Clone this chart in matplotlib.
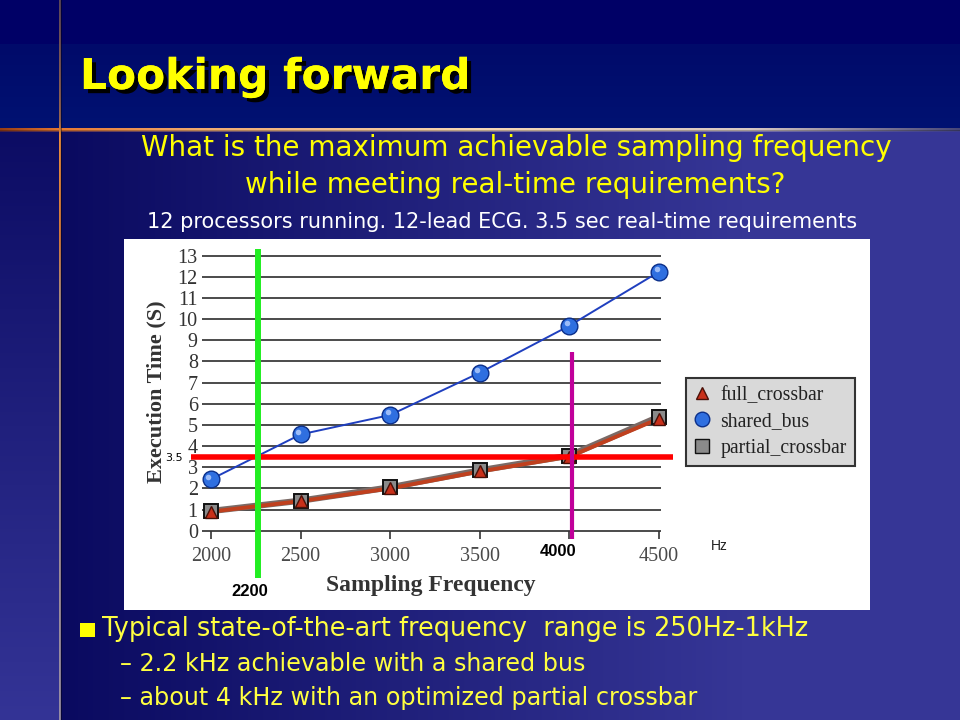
import numpy as np
import matplotlib
matplotlib.use('Agg')
import matplotlib.pyplot as plt
from matplotlib.patches import Rectangle
from matplotlib.lines import Line2D
import matplotlib.transforms as mtransforms
import matplotlib.patheffects as pe

# ---------------- data ----------------
freq = [2000, 2500, 3000, 3500, 4000, 4500]
full_crossbar = [0.90, 1.40, 2.00, 2.80, 3.50, 5.30]
shared_bus = [2.43, 4.55, 5.47, 7.47, 9.69, 12.24]
partial_crossbar = [0.93, 1.42, 2.05, 2.85, 3.55, 5.39]
series_names = ['full_crossbar', 'shared_bus', 'partial_crossbar']

x_ticks = [2000, 2500, 3000, 3500, 4000, 4500]
x_tick_labels = ['2000', '2500', '3000', '3500', '4000', '4500']
y_ticks = list(range(0, 14))

threshold = 3.5
threshold_span = (1888, 4578)
bus_limit_x = 2262          # green line, labelled 2200
bus_limit_span = (-2.23, 13.31)
crossbar_limit_x = 4014     # magenta line, labelled 4000
crossbar_limit_span = (-0.39, 8.47)

title = 'Looking forward'
question = ['What is the maximum achievable sampling frequency',
            'while meeting real-time requirements?']
setup = '12 processors running. 12-lead ECG. 3.5 sec real-time requirements'
bullet = 'Typical state-of-the-art frequency  range is 250Hz-1kHz'
subbullets = ['\u2013 2.2 kHz achievable with a shared bus',
              '\u2013 about 4 kHz with an optimized partial crossbar']

# ---------------- background ----------------
H, W = 720, 960
yy, xx = np.mgrid[0:H, 0:W]
yy = yy.astype(float)
xx = xx.astype(float)

dark = np.array([10, 10, 96]) / 255
light = np.array([54, 54, 150]) / 255
t = np.clip((xx - 62) / 680, 0, 1)[..., None]
img = dark + (light - dark) * t

ls = np.clip((yy - 132) / 588, 0, 1)[..., None]
l0 = np.array([12, 12, 100]) / 255
l1 = np.array([52, 52, 150]) / 255
left = l0 + (l1 - l0) * ls
mask = xx < 59
img[mask] = left[mask]

img[:44] = np.array([0, 0, 102]) / 255
tb = np.clip((yy - 44) / 84, 0, 1)[..., None]
b0 = np.array([0, 10, 106]) / 255
b1 = np.array([0, 18, 114]) / 255
band = b0 + (b1 - b0) * tb
img[44:128] = band[44:128]

# horizontal decorative line
kx = [0, 60, 200, 480, 750, 960]
kc = np.array([[150, 60, 20], [230, 120, 50], [240, 170, 110],
               [245, 215, 180], [215, 200, 195], [70, 70, 120]]) / 255
xs = np.arange(W)
hl = np.stack([np.interp(xs, kx, kc[:, c]) for c in range(3)], axis=1)
img[128] = hl
img[129] = hl
img[130] = hl * 0.75
img[131] = hl * 0.4 + img[131] * 0.6

# vertical decorative line
ky = [0, 120, 135, 240, 300, 720]
kv = np.array([[90, 70, 90], [150, 100, 80], [235, 140, 60],
               [210, 120, 60], [170, 140, 130], [150, 140, 165]]) / 255
ys = np.arange(H)
vl = np.stack([np.interp(ys, ky, kv[:, c]) for c in range(3)], axis=1)
img[:, 59] = vl
img[:, 60] = vl * 0.9
img[:, 61] = img[:, 61] * 0.6

fig = plt.figure(figsize=(9.6, 7.2), dpi=100)
bg = fig.add_axes([0, 0, 1, 1])
bg.imshow(np.clip(img, 0, 1), extent=(0, W, H, 0), aspect='auto', interpolation='bilinear')
bg.set_xlim(0, W)
bg.set_ylim(H, 0)
bg.axis('off')
bg.add_patch(Rectangle((124, 239), 746, 371, facecolor='white', edgecolor='none', zorder=1))

# ---------------- slide text ----------------
sans = 'DejaVu Sans'
bg.text(80, 89, title, fontsize=30.5, weight='bold', color='#ffff00', family=sans, va='baseline', zorder=4,
        path_effects=[pe.withSimplePatchShadow(offset=(3, -3), shadow_rgbFace='black', alpha=1.0),
                      pe.Normal()])
bg.text(516, 156, question[0], fontsize=20, color='#ffff00', family=sans, ha='center', va='baseline')
bg.text(515, 193, question[1], fontsize=20, color='#ffff00', family=sans, ha='center', va='baseline')
bg.text(502, 228, setup, fontsize=15, color='white', family=sans, ha='center', va='baseline')

bg.add_patch(Rectangle((80, 623), 15, 14, facecolor='#ffff00', edgecolor='none'))
bg.text(102, 636, bullet, fontsize=18.4, color='#ffff40', family=sans, va='baseline')
bg.text(120, 671, subbullets[0], fontsize=17.2, color='#ffff40', family=sans, va='baseline')
bg.text(120, 705, subbullets[1], fontsize=17.2, color='#ffff40', family=sans, va='baseline')

# ---------------- chart ----------------
serif = 'Liberation Serif'
ax = fig.add_axes([202 / 960, 1 - 530.7 / 720, 459 / 960, 275 / 720])
ax.set_zorder(2)
ax.patch.set_alpha(0)
ax.set_xlim(1950, 4511)
ax.set_ylim(0, 13)
for s in ax.spines.values():
    s.set_visible(False)

ax.hlines(y_ticks, 1950, 4511, color='#1a1a1a', lw=1.1, clip_on=False, zorder=1)
ax.set_yticks(y_ticks)
ax.set_yticklabels([str(v) for v in y_ticks], fontfamily=serif, fontsize=14.5, color='#333333')
ax.tick_params(axis='y', length=0, pad=3)
ax.set_xticks(x_ticks)
ax.set_xticklabels(x_tick_labels, fontfamily=serif, fontsize=14.5, color='#4a4a4a')
ax.tick_params(axis='x', direction='out', length=6, width=1.2, color='#333333', pad=6)
ax.get_xticklabels()[4].set_visible(False)

ax.plot(freq, shared_bus, color='#1f3fbf', lw=1.4, zorder=3, clip_on=False)
ax.plot(freq, shared_bus, ls='none', marker='o', ms=12, mfc='#2f6fe0', mec='#0b2f8a', mew=1,
        zorder=4, clip_on=False)
hi = mtransforms.offset_copy(ax.transData, fig=fig, x=-2.5, y=2.5, units='dots')
ax.plot(freq, shared_bus, ls='none', marker='o', ms=4, mfc='#b8d0ff', mec='none', alpha=0.8,
        transform=hi, zorder=4.1, clip_on=False)

ax.plot(freq, partial_crossbar, color='#7a6a66', lw=4.5, zorder=3, clip_on=False)
ax.plot(freq, full_crossbar, color='#c0401e', lw=2.8, zorder=3.1, clip_on=False)
ax.plot(freq, partial_crossbar, ls='none', marker='s', ms=10.5, mfc='#8a8a8a', mec='#111111', mew=1.4,
        zorder=4, clip_on=False)
ax.plot(freq, full_crossbar, ls='none', marker='^', ms=8.5, mfc='#c8301a', mec='#4a1008', mew=1,
        zorder=4.2, clip_on=False)

ax.plot(threshold_span, [threshold, threshold], color='#ff0000', lw=4, clip_on=False,
        zorder=6, solid_capstyle='butt')
ax.plot([bus_limit_x, bus_limit_x], bus_limit_span, color='#22ee22', lw=4.3, clip_on=False,
        zorder=7, solid_capstyle='butt')
ax.plot([crossbar_limit_x, crossbar_limit_x], crossbar_limit_span, color='#c0009a', lw=3,
        clip_on=False, zorder=7, solid_capstyle='butt')

# axis titles and annotations (pixel positions on the slide)
bg.text(431, 586, 'Sampling Frequency', fontsize=17, weight='bold', family=serif, color='#333333',
        ha='center', va='center', zorder=5)
bg.text(156, 392, 'Execution Time (S)', fontsize=16, weight='bold', family=serif, color='#333333',
        ha='center', va='center', rotation=90, zorder=5)
bg.text(174, 458, '3.5', fontsize=8, family=sans, color='black', ha='center', va='center', zorder=5)
bg.text(249.5, 592, '2200', fontsize=12, weight='bold', family='Liberation Sans', color='black',
        ha='center', va='center', zorder=5)
bg.text(558.5, 552, '4000', fontsize=12, weight='bold', family='Liberation Sans', color='black',
        ha='center', va='center', zorder=5)
bg.text(719, 546, 'Hz', fontsize=10, family='Liberation Sans', color='#222222',
        ha='center', va='center', zorder=5)

h_full = Line2D([], [], ls='none', marker='^', ms=8.5, mfc='#c8301a', mec='#4a1008')
h_bus = Line2D([], [], ls='none', marker='o', ms=10.5, mfc='#2f6fe0', mec='#0b2f8a')
h_part = Line2D([], [], ls='none', marker='s', ms=10, mfc='#8a8a8a', mec='#111111')
leg = fig.legend([h_full, h_bus, h_part], series_names, loc='upper left',
                 bbox_to_anchor=(686 / 960, 1 - 378 / 720), frameon=True, fancybox=False,
                 edgecolor='#333333', facecolor='#d9d9d9', framealpha=1,
                 prop={'family': serif, 'size': 14.2}, handlelength=0.8, handletextpad=0.55,
                 labelspacing=0.38, borderpad=0.4, borderaxespad=0)
leg.get_frame().set_linewidth(1.5)
for tx in leg.get_texts():
    tx.set_color('#222222')
leg.set_zorder(8)

fig.savefig('out.png', dpi=100)
